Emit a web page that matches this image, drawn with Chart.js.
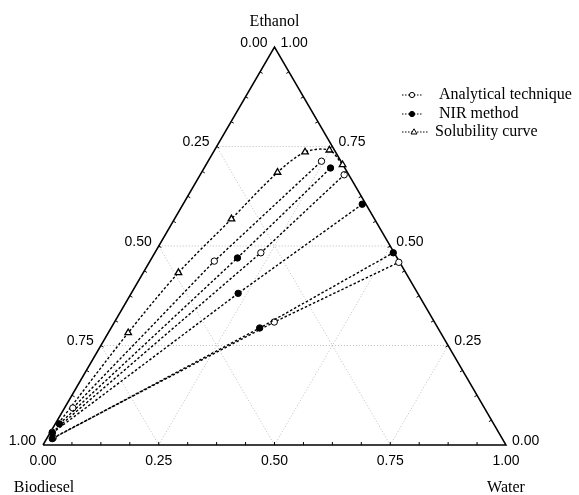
<!DOCTYPE html>
<html>
<head>
<meta charset="utf-8">
<script src="https://cdn.jsdelivr.net/npm/chart.js@4/dist/chart.umd.min.js"></script>
<style>
  html, body { margin: 0; padding: 0; background: #fff; }
  #wrap { width: 579px; height: 495px; }
</style>
</head>
<body>
<div id="wrap"><canvas id="c"></canvas></div>
<script>
// Mass fractions on the ternary diagram (biodiesel = 1 - ethanol - water).
// Each tie line: biodiesel-rich phase, overall mixture, water-rich phase.
const analyticalEthanol = [[0.093, 0.462, 0.713], [0.032, 0.483, 0.679], [0.018, 0.309, 0.459]];
const analyticalWater   = [[0.018, 0.139, 0.245], [0.004, 0.229, 0.311], [0.013, 0.345, 0.539]];
const nirEthanol = [[0.053, 0.470, 0.696], [0.030, 0.381, 0.605], [0.016, 0.294, 0.483]];
const nirWater   = [[0.009, 0.185, 0.273], [0.005, 0.231, 0.387], [0.012, 0.321, 0.515]];
const solubilityEthanol = [0.054, 0.282, 0.433, 0.568, 0.685, 0.736, 0.741, 0.704];
const solubilityWater   = [0.006, 0.043, 0.076, 0.123, 0.164, 0.198, 0.248, 0.295];

const gridValues = [0.25, 0.50, 0.75];
const tickLabels = ['0.00', '0.25', '0.50', '0.75', '1.00'];
const componentNames = ['Ethanol', 'Biodiesel', 'Water'];
const seriesNames = ['Analytical technique', 'NIR method', 'Solubility curve'];

// ternary (ethanol, water) -> cartesian on the x/y linear scales
const toXY = (e, w) => ({ x: w + e / 2, y: e });

const dash = [2.5, 2];
const lw = 1.4;
const datasets = [];

// NIR method tie lines (filled circles)
nirEthanol.forEach((row, i) => {
  datasets.push({
    data: row.map((e, j) => toXY(e, nirWater[i][j])),
    showLine: true, borderColor: '#000', borderWidth: lw, borderDash: dash,
    pointStyle: 'circle', pointRadius: 3.2, pointBackgroundColor: '#000',
    pointBorderColor: '#000', pointBorderWidth: 1, order: 1, clip: false
  });
});
// Analytical technique tie lines (open circles)
analyticalEthanol.forEach((row, i) => {
  datasets.push({
    data: row.map((e, j) => toXY(e, analyticalWater[i][j])),
    showLine: true, borderColor: '#000', borderWidth: lw, borderDash: dash,
    pointStyle: 'circle', pointRadius: 3.2, pointBackgroundColor: '#fff',
    pointBorderColor: '#000', pointBorderWidth: 1, order: 2, clip: false
  });
});
// Solubility (binodal) curve
datasets.push({
  data: solubilityEthanol.map((e, j) => toXY(e, solubilityWater[j])),
  showLine: true, borderColor: '#000', borderWidth: lw, borderDash: dash,
  tension: 0.3,
  pointStyle: 'triangle',
  pointRadius: ctx => (ctx.dataIndex === 0 ? 0 : 3.8),
  pointBackgroundColor: '#fff', pointBorderColor: '#000', pointBorderWidth: 1.3,
  order: 3, clip: false
});
// triangle outline
datasets.push({
  data: [toXY(0, 0), toXY(0, 1), toXY(1, 0), toXY(0, 0)],
  showLine: true, borderColor: '#000', borderWidth: 1.5, pointRadius: 0,
  order: 8, clip: false
});
// dotted grid: constant ethanol, constant water, constant biodiesel
gridValues.forEach(v => {
  const lines = [
    [toXY(v, 0), toXY(v, 1 - v)],
    [toXY(0, v), toXY(1 - v, v)],
    [toXY(0, 1 - v), toXY(1 - v, 0)]
  ];
  lines.forEach(pts => datasets.push({
    data: pts, showLine: true, borderColor: '#bdbdbd', borderWidth: 1,
    borderDash: [1, 2], pointRadius: 0, order: 9, clip: false
  }));
});

const ternaryDecor = {
  id: 'ternaryDecor',
  afterDraw(chart) {
    const { ctx, scales: { x, y } } = chart;
    const P = (e, w) => [x.getPixelForValue(w + e / 2), y.getPixelForValue(e)];
    ctx.save();

    // minor/major ticks along each edge, pointing inward
    ctx.strokeStyle = '#000';
    ctx.lineWidth = 1;
    const tl = 3;
    for (let k = 1; k < 16; k++) {
      const t = k / 16;
      const segs = [
        [P(0, t), [0, -1]],                 // bottom edge (water)
        [P(t, 0), [0.866, 0.5]],            // left edge
        [P(t, 1 - t), [-0.866, 0.5]]        // right edge
      ];
      segs.forEach(([p, n]) => {
        ctx.beginPath();
        ctx.moveTo(p[0], p[1]);
        ctx.lineTo(p[0] + n[0] * tl, p[1] + n[1] * tl);
        ctx.stroke();
      });
    }

    // tick labels
    ctx.fillStyle = '#000';
    ctx.font = '14px "Liberation Sans", Arial, sans-serif';
    ctx.textBaseline = 'middle';
    tickLabels.forEach((lab, i) => {
      const v = i / 4;
      // bottom: water
      let p = P(0, v);
      ctx.textAlign = 'center';
      ctx.fillText(lab, p[0], p[1] + 16);
      // left: biodiesel (1 at bottom-left, 0 at apex)
      p = P(1 - v, 0);
      ctx.textAlign = 'right';
      ctx.fillText(lab, p[0] - 7, p[1] - 4);
      // right: ethanol
      p = P(v, 1 - v);
      ctx.textAlign = 'left';
      ctx.fillText(lab, p[0] + 6, p[1] - 4);
    });

    // vertex names
    ctx.font = '16px "Liberation Serif", "Times New Roman", serif';
    ctx.textAlign = 'center';
    let p = P(1, 0);
    ctx.fillText(componentNames[0], p[0], p[1] - 25);
    p = P(0, 0);
    ctx.fillText(componentNames[1], p[0] + 1, p[1] + 43);
    p = P(0, 1);
    ctx.fillText(componentNames[2], p[0], p[1] + 43);

    // legend
    const rows = [
      { y: 95,  x1: 402, x2: 423, mx: 412, tx: 439, kind: 'open' },
      { y: 114, x1: 402, x2: 423, mx: 412, tx: 439, kind: 'filled' },
      { y: 132, x1: 402, x2: 428, mx: 414, tx: 435, kind: 'tri' }
    ];
    rows.forEach((r, i) => {
      ctx.strokeStyle = '#000';
      ctx.setLineDash([1.5, 1.5]);
      ctx.lineWidth = 1;
      ctx.beginPath();
      ctx.moveTo(r.x1, r.y);
      ctx.lineTo(r.x2, r.y);
      ctx.stroke();
      ctx.setLineDash([]);
      ctx.beginPath();
      if (r.kind === 'tri') {
        ctx.moveTo(r.mx, r.y - 3.2);
        ctx.lineTo(r.mx + 3, r.y + 2);
        ctx.lineTo(r.mx - 3, r.y + 2);
        ctx.closePath();
        ctx.fillStyle = '#fff';
      } else {
        ctx.arc(r.mx, r.y, 2.6, 0, Math.PI * 2);
        ctx.fillStyle = r.kind === 'filled' ? '#000' : '#fff';
      }
      ctx.fill();
      ctx.stroke();
      ctx.fillStyle = '#000';
      ctx.textAlign = 'left';
      ctx.fillText(seriesNames[i], r.tx, r.y);
    });
    ctx.restore();
  }
};

new Chart(document.getElementById('c'), {
  type: 'scatter',
  data: { datasets },
  options: {
    responsive: true,
    maintainAspectRatio: false,
    animation: false,
    events: [],
    layout: { padding: { left: 43, right: 73, top: 47, bottom: 50 } },
    scales: {
      x: { type: 'linear', min: 0, max: 1, display: false },
      y: { type: 'linear', min: 0, max: 1, display: false }
    },
    plugins: { legend: { display: false }, tooltip: { enabled: false } }
  },
  plugins: [ternaryDecor]
});
</script>
</body>
</html>
